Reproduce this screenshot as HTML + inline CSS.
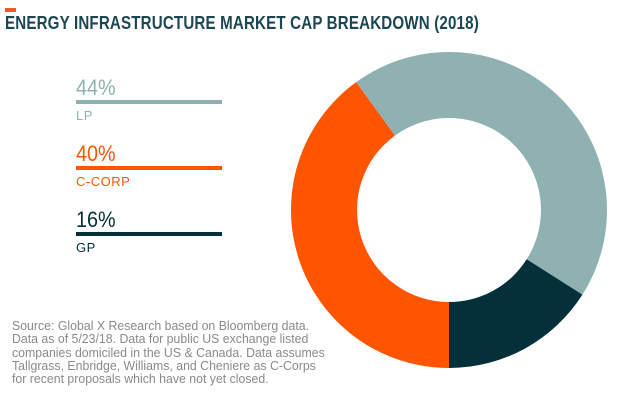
<!DOCTYPE html>
<html><head><meta charset="utf-8"><style>
body{margin:0;width:640px;height:414px;background:#fff;font-family:"Liberation Sans",sans-serif;position:relative;overflow:hidden}
.a{position:absolute}
</style></head><body>
<div class="a" style="left:5px;top:8px;width:11px;height:4px;background:#f15a22"></div>
<div class="a" style="left:5px;top:13px;font-size:18px;font-weight:bold;color:#1c4652;letter-spacing:0.2px;transform:scaleX(0.84);transform-origin:left;white-space:nowrap">ENERGY INFRASTRUCTURE MARKET CAP BREAKDOWN (2018)</div>
<div id="legend"></div>
<svg class="a" style="left:0;top:0" width="640" height="414" id="chart"></svg>
<div class="a" style="left:12px;top:320px;font-size:12.5px;line-height:13.3px;color:#8a8a8a;transform:scaleX(0.985);transform-origin:left;white-space:nowrap">Source: Global X Research based on Bloomberg data.<br>Data as of 5/23/18. Data for public US exchange listed<br>companies domiciled in the US &amp; Canada. Data assumes<br>Tallgrass, Enbridge, Williams, and Cheniere as C-Corps<br>for recent proposals which have not yet closed.</div>
<script>
const categories=["LP","C-CORP","GP"];
const values=[44,40,16];
const colors=["#8fb1b1","#ff5500","#04303a"];
const drawOrder=[0,2,1];
const startAngle=-36; // degrees clockwise from top
const cx=449,cy=210,ro=158,ri=92;
const svg=document.getElementById('chart');
const total=values.reduce((a,b)=>a+b,0);
function pt(r,a){const t=a*Math.PI/180;return [cx+r*Math.sin(t),cy-r*Math.cos(t)];}
let a0=startAngle;
drawOrder.forEach(i=>{
  const v=values[i];
  const a1=a0+v/total*360;const lg=(a1-a0)>180?1:0;
  const p1=pt(ro,a0),p2=pt(ro,a1),p3=pt(ri,a1),p4=pt(ri,a0);
  const p=document.createElementNS('http://www.w3.org/2000/svg','path');
  p.setAttribute('d',`M${p1}A${ro},${ro} 0 ${lg} 1 ${p2}L${p3}A${ri},${ri} 0 ${lg} 0 ${p4}Z`);
  p.setAttribute('fill',colors[i]);
  
  
  svg.appendChild(p);a0=a1;
});
const lg=document.getElementById('legend');
categories.forEach((c,i)=>{
  const y=77+i*66;
  const e=document.createElement('div');
  e.className='a';e.style.cssText=`left:76px;top:${y}px;width:146px;height:60px`;
  
  
  e.innerHTML=`<div style="position:absolute;left:0;top:-2px;font-size:22px;color:${colors[i]};transform:scaleX(0.9);transform-origin:left">${values[i]}%</div><div style="position:absolute;left:0;top:23px;width:146px;height:4px;background:${colors[i]}"></div><div style="position:absolute;left:0;top:31px;font-size:13px;color:${colors[i]};letter-spacing:0.5px">${c}</div>`;
  lg.appendChild(e);
});
</script>
</body></html>
